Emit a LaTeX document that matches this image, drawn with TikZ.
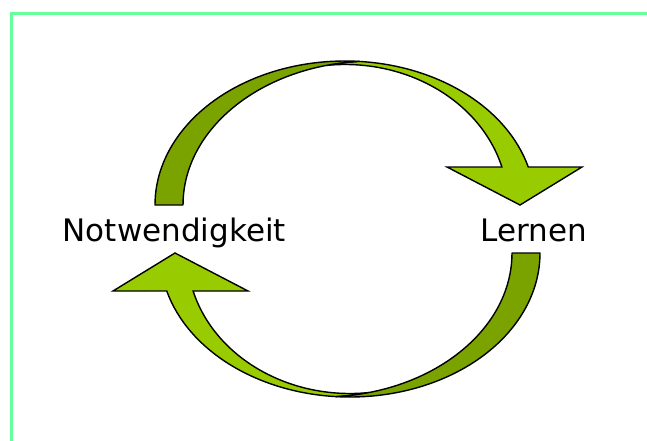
\documentclass[tikz,border=0pt]{standalone}
\usepackage{fontspec}
\setmainfont{DejaVu Sans}
\usetikzlibrary{arrows.meta}

\definecolor{gruenhell}{HTML}{99CC00}
\definecolor{gruendunkel}{HTML}{7AA300}
\definecolor{rahmengruen}{HTML}{66FF99}

\tikzset{
  rueckseite/.style={draw=black, line width=1.4pt, line join=round, fill=gruendunkel},
  vorderseite/.style={draw=black, line width=1.4pt, line join=miter, fill=gruenhell},
  beschriftung/.style={font=\fontsize{31}{37}\selectfont, inner sep=0pt, anchor=base},
  pics/bogenpfeil/.style={code={
    % helle Vorderseite mit Spitze
    \path[vorderseite] (11.5,167.6) arc[start angle=85.77, end angle=15.30, x radius=190, y radius=144]
        -- (234.5,62) -- (172.5,24) -- (99.5,62) -- (154.4,62)
        arc[start angle=15.69, end angle=96.62, x radius=163, y radius=140.5]
        arc[start angle=104.26, end angle=94.23, x radius=190, y radius=144] -- cycle;
    % dunkle Rueckseite des Bogens
    \path[rueckseite] (-192.5,24) arc[start angle=180, end angle=85.77, x radius=190, y radius=144]
        arc[start angle=94.23, end angle=180, x radius=190, y radius=144] -- cycle;
  }}
}

\begin{document}
\begin{tikzpicture}[x=1pt, y=1pt]
    \useasboundingbox (0,0) rectangle (647,440);
    \fill[white] (0,0) rectangle (647,440);
    \draw[rahmengruen, line width=3pt] (11.5,-5) |- (655,426.7);

    \pic at (347.5,211) {bogenpfeil};
    \pic[rotate=180] at (347.5,211) {bogenpfeil};

    \node[beschriftung] (notwendigkeit) at (174.3,198.3) {Notwendigkeit};
    \node[beschriftung] (lernen) at (533.9,198.3) {Lernen};
\end{tikzpicture}
\end{document}
